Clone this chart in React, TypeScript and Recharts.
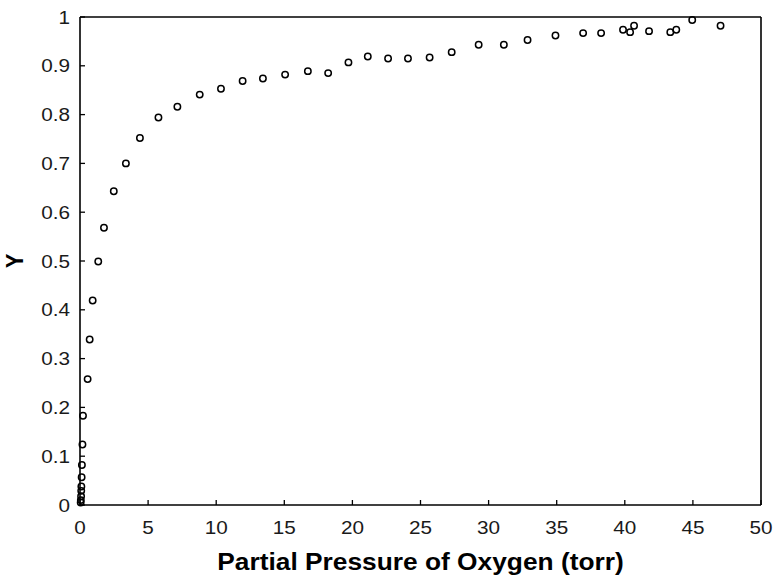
import React from "react";
import { ScatterChart, Scatter, XAxis, YAxis, Label } from "recharts";

const oxygenPressure = [
  0.05, 0.06, 0.08, 0.09, 0.1, 0.12, 0.14, 0.18, 0.22, 0.56, 0.71, 0.93, 1.34, 1.76,
  2.48, 3.37, 4.4, 5.76, 7.15, 8.79, 10.35, 11.94, 13.43, 15.06, 16.73, 18.22, 19.71,
  21.13, 22.62, 24.08, 25.67, 27.29, 29.27, 31.12, 32.86, 34.91, 36.94, 38.26, 39.87,
  40.39, 40.68, 41.78, 43.34, 43.78, 44.95, 47.03,
];
const fractionSaturation = [
  0.005, 0.01, 0.018, 0.029, 0.038, 0.057, 0.082, 0.124, 0.183, 0.258, 0.339, 0.419,
  0.499, 0.568, 0.643, 0.7, 0.752, 0.794, 0.816, 0.841, 0.853, 0.869, 0.874, 0.882,
  0.889, 0.885, 0.907, 0.919, 0.915, 0.915, 0.917, 0.928, 0.943, 0.943, 0.953, 0.962,
  0.967, 0.967, 0.974, 0.969, 0.982, 0.971, 0.969, 0.974, 0.994, 0.982,
];
const xTicks = [0, 5, 10, 15, 20, 25, 30, 35, 40, 45, 50];
const yTicks = [0, 0.1, 0.2, 0.3, 0.4, 0.5, 0.6, 0.7, 0.8, 0.9, 1];
const yTickLabels = ["0", "0.1", "0.2", "0.3", "0.4", "0.5", "0.6", "0.7", "0.8", "0.9", "1"];
const xTitle = "Partial Pressure of Oxygen (torr)";
const yTitle = "Y";

const data = oxygenPressure.map((p, i) => ({ p, y: fractionSaturation[i] }));

const FONT = "'Liberation Sans', Arial, Helvetica, sans-serif";
const STRETCH = 1.12;
const TICK_FS = 18.5;
const TITLE_FS = 23.5;

const BottomTick = (props: any) => {
  const { x, y, payload } = props;
  return (
    <text
      transform={`translate(${x},${y}) scale(${STRETCH},1)`}
      x={0}
      y={0}
      dy="0.71em"
      textAnchor="middle"
      fontFamily={FONT}
      fontSize={TICK_FS}
      fill="#1a1a1a"
      stroke="none"
    >
      {payload.value}
    </text>
  );
};

const LeftTick = (props: any) => {
  const { x, y, payload } = props;
  const idx = yTicks.indexOf(payload.value);
  const label = idx >= 0 ? yTickLabels[idx] : String(payload.value);
  return (
    <text
      transform={`translate(${x},${y}) scale(${STRETCH},1)`}
      x={0}
      y={0}
      dy="0.355em"
      textAnchor="end"
      fontFamily={FONT}
      fontSize={TICK_FS}
      fill="#1a1a1a"
      stroke="none"
    >
      {label}
    </text>
  );
};

const XTitle = (props: any) => {
  const vb = props.viewBox || {};
  const cx = vb.x + vb.width / 2;
  const cy = vb.y + 57;
  return (
    <text
      transform={`translate(${cx},${cy}) scale(${STRETCH},1)`}
      x={0}
      y={0}
      dy="0.355em"
      textAnchor="middle"
      fontFamily={FONT}
      fontSize={TITLE_FS}
      fontWeight="bold"
      fill="#000"
      stroke="none"
    >
      {xTitle}
    </text>
  );
};

const YTitle = (props: any) => {
  const vb = props.viewBox || {};
  const cx = 14;
  const cy = vb.y + vb.height / 2;
  return (
    <text
      transform={`translate(${cx},${cy}) scale(${STRETCH},1) rotate(-90)`}
      x={0}
      y={0}
      dy="0.355em"
      textAnchor="middle"
      fontFamily={FONT}
      fontSize={22}
      fontWeight="bold"
      fill="#000"
      stroke="none"
    >
      {yTitle}
    </text>
  );
};

const Marker = (props: any) => {
  const { cx, cy } = props;
  if (cx == null || cy == null) return null;
  return <circle cx={cx} cy={cy} r={3.2} fill="none" stroke="#000" strokeWidth={1.5} />;
};

const axisLineStyle = { stroke: "#000", strokeWidth: 1.6 };
const tickLineStyle = { stroke: "#000", strokeWidth: 1.3 };

export default function App() {
  return (
    <div style={{ position: "absolute", left: 0, top: 0, width: 776, height: 582, background: "#fff" }}>
      <ScatterChart
        width={776}
        height={582}
        margin={{ top: 16, right: 14, bottom: 0, left: 0 }}
      >
        <XAxis
          xAxisId="b"
          dataKey="p"
          type="number"
          domain={[0, 50]}
          ticks={xTicks}
          orientation="bottom"
          height={77}
          stroke="#000"
          axisLine={axisLineStyle}
          tickLine={tickLineStyle}
          tickSize={-5}
          tickMargin={21}
          tick={<BottomTick />}
          interval={0}
        >
          <Label content={<XTitle />} />
        </XAxis>
        <XAxis
          xAxisId="t"
          dataKey="p"
          type="number"
          domain={[0, 50]}
          ticks={xTicks}
          orientation="top"
          height={1}
          stroke="#000"
          axisLine={axisLineStyle}
          tickLine={tickLineStyle}
          tickSize={-6}
          tick={() => <g />}
          interval={0}
        />
        <YAxis
          yAxisId="l"
          dataKey="y"
          type="number"
          domain={[0, 1]}
          ticks={yTicks}
          orientation="left"
          width={80}
          stroke="#000"
          axisLine={axisLineStyle}
          tickLine={tickLineStyle}
          tickSize={-5}
          tickMargin={15}
          tick={<LeftTick />}
          interval={0}
        >
          <Label content={<YTitle />} />
        </YAxis>
        <YAxis
          yAxisId="r"
          dataKey="y"
          type="number"
          domain={[0, 1]}
          ticks={yTicks}
          orientation="right"
          width={1}
          stroke="#000"
          axisLine={axisLineStyle}
          tickLine={tickLineStyle}
          tickSize={-6}
          tick={() => <g />}
          interval={0}
        />
        <Scatter
          data={data}
          xAxisId="b"
          yAxisId="l"
          shape={<Marker />}
          isAnimationActive={false}
        />
      </ScatterChart>
    </div>
  );
}
